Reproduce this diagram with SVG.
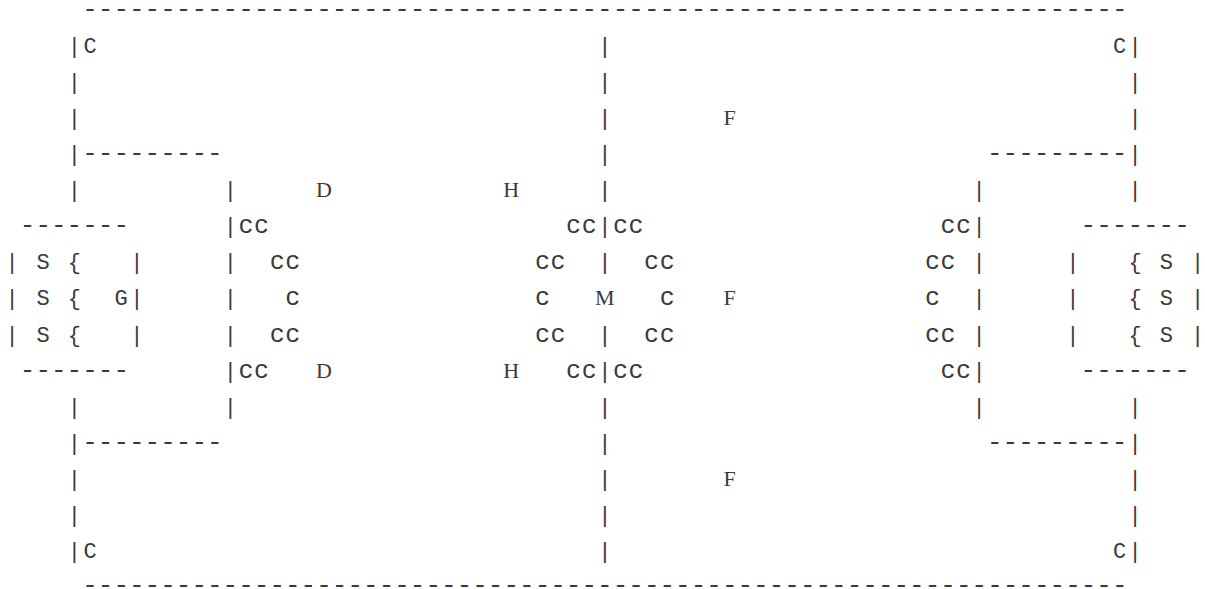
<svg xmlns="http://www.w3.org/2000/svg" width="1205" height="589" viewBox="0 0 1205 589">
<style>
.t{font-family:"Liberation Mono","Courier New",monospace;font-size:22px;letter-spacing:2.4px;fill:#3a3a3a}
.c{font-family:"Liberation Mono","Courier New",monospace;font-size:25px;letter-spacing:0.6px;fill:#3a3a3a}
.d{font-family:"Liberation Mono","Courier New",monospace;font-size:26px;fill:#3a3a3a}
.l{font-family:"Liberation Serif","Times New Roman",serif;font-size:22px;fill:#3a3a3a;text-anchor:middle}
</style>
<rect width="1205" height="589" fill="#fff"/>
<g id="frame">
<text class="d" x="82.2" y="16.93">-------------------------------------------------------------------</text>
<text class="t" x="67.8" y="53">|C</text><text class="t" x="1113" y="53">C|</text>
<text class="t" x="67.8" y="89.07">|</text><text class="t" x="1128.6" y="89.07">|</text>
<text class="t" x="67.8" y="125.14">|</text><text class="t" x="1128.6" y="125.14">|</text>
<text class="t" x="67.8" y="161.21">|</text><text class="d" x="82.2" y="161.21">---------</text>
<text class="d" x="987" y="161.21">---------</text><text class="t" x="1128.6" y="161.21">|</text>
<text class="t" x="67.8" y="197.28">|</text><text class="t" x="1128.6" y="197.28">|</text>
<text class="t" x="67.8" y="413.7">|</text><text class="t" x="1128.6" y="413.7">|</text>
<text class="t" x="67.8" y="449.77">|</text><text class="d" x="82.2" y="449.77">---------</text>
<text class="d" x="987" y="449.77">---------</text><text class="t" x="1128.6" y="449.77">|</text>
<text class="t" x="67.8" y="485.84">|</text><text class="t" x="1128.6" y="485.84">|</text>
<text class="t" x="67.8" y="521.91">|</text><text class="t" x="1128.6" y="521.91">|</text>
<text class="t" x="67.8" y="557.98">|C</text><text class="t" x="1113" y="557.98">C|</text>
<text class="d" x="82.2" y="592.6">-------------------------------------------------------------------</text>
</g>
<g id="left-box">
<text class="d" x="19.8" y="233.35">-------</text>
<text class="t" x="5.4" y="269.42">|</text><text class="t" x="36.6" y="269.42">S</text><text class="t" x="67.8" y="269.42">{</text><text class="t" x="130.2" y="269.42">|</text>
<text class="t" x="5.4" y="305.49">|</text><text class="t" x="36.6" y="305.49">S</text><text class="t" x="67.8" y="305.49">{</text><text class="t" x="114.6" y="305.49">G|</text>
<text class="t" x="5.4" y="341.56">|</text><text class="t" x="36.6" y="341.56">S</text><text class="t" x="67.8" y="341.56">{</text><text class="t" x="130.2" y="341.56">|</text>
<text class="d" x="19.8" y="377.63">-------</text>
</g>
<g id="right-box">
<text class="d" x="1080.6" y="233.35">-------</text>
<text class="t" x="1066.2" y="269.42">|</text><text class="t" x="1128.6" y="269.42">{</text><text class="t" x="1159.8" y="269.42">S</text><text class="t" x="1191" y="269.42">|</text>
<text class="t" x="1066.2" y="305.49">|</text><text class="t" x="1128.6" y="305.49">{</text><text class="t" x="1159.8" y="305.49">S</text><text class="t" x="1191" y="305.49">|</text>
<text class="t" x="1066.2" y="341.56">|</text><text class="t" x="1128.6" y="341.56">{</text><text class="t" x="1159.8" y="341.56">S</text><text class="t" x="1191" y="341.56">|</text>
<text class="d" x="1080.6" y="377.63">-------</text>
</g>
<g id="left-wall">
<text class="t" x="223.8" y="197.28">|</text>
<text class="t" x="223.8" y="233.35">|</text><text class="c" x="238.5" y="233.35">cc</text>
<text class="t" x="223.8" y="269.42">|</text><text class="c" x="269.7" y="269.42">cc</text>
<text class="t" x="223.8" y="305.49">|</text><text class="c" x="285.3" y="305.49">c</text>
<text class="t" x="223.8" y="341.56">|</text><text class="c" x="269.7" y="341.56">cc</text>
<text class="t" x="223.8" y="377.63">|</text><text class="c" x="238.5" y="377.63">cc</text>
<text class="t" x="223.8" y="413.7">|</text>
</g>
<g id="centre-line">
<text class="t" x="598.2" y="53">|</text>
<text class="t" x="598.2" y="89.07">|</text>
<text class="t" x="598.2" y="125.14">|</text>
<text class="t" x="598.2" y="161.21">|</text>
<text class="t" x="598.2" y="197.28">|</text>
<text class="c" x="566.1" y="233.35">cc</text><text class="t" x="598.2" y="233.35">|</text><text class="c" x="612.9" y="233.35">cc</text>
<text class="c" x="534.9" y="269.42">cc</text><text class="t" x="598.2" y="269.42">|</text><text class="c" x="644.1" y="269.42">cc</text>
<text class="c" x="534.9" y="305.49">c</text><text class="c" x="659.7" y="305.49">c</text>
<text class="c" x="534.9" y="341.56">cc</text><text class="t" x="598.2" y="341.56">|</text><text class="c" x="644.1" y="341.56">cc</text>
<text class="c" x="566.1" y="377.63">cc</text><text class="t" x="598.2" y="377.63">|</text><text class="c" x="612.9" y="377.63">cc</text>
<text class="t" x="598.2" y="413.7">|</text>
<text class="t" x="598.2" y="449.77">|</text>
<text class="t" x="598.2" y="485.84">|</text>
<text class="t" x="598.2" y="521.91">|</text>
<text class="t" x="598.2" y="557.98">|</text>
</g>
<g id="right-wall">
<text class="t" x="972.6" y="197.28">|</text>
<text class="c" x="940.5" y="233.35">cc</text><text class="t" x="972.6" y="233.35">|</text>
<text class="c" x="924.9" y="269.42">cc</text><text class="t" x="972.6" y="269.42">|</text>
<text class="c" x="924.9" y="305.49">c</text><text class="t" x="972.6" y="305.49">|</text>
<text class="c" x="924.9" y="341.56">cc</text><text class="t" x="972.6" y="341.56">|</text>
<text class="c" x="940.5" y="377.63">cc</text><text class="t" x="972.6" y="377.63">|</text>
<text class="t" x="972.6" y="413.7">|</text>
</g>
<g id="labels" class="l">
<text x="324" y="197.28">D</text>
<text x="511.2" y="197.28">H</text>
<text x="729.6" y="125.14">F</text>
<text x="604.8" y="305.49">M</text>
<text x="729.6" y="305.49">F</text>
<text x="324" y="377.63">D</text>
<text x="511.2" y="377.63">H</text>
<text x="729.6" y="485.84">F</text>
</g>
</svg>
